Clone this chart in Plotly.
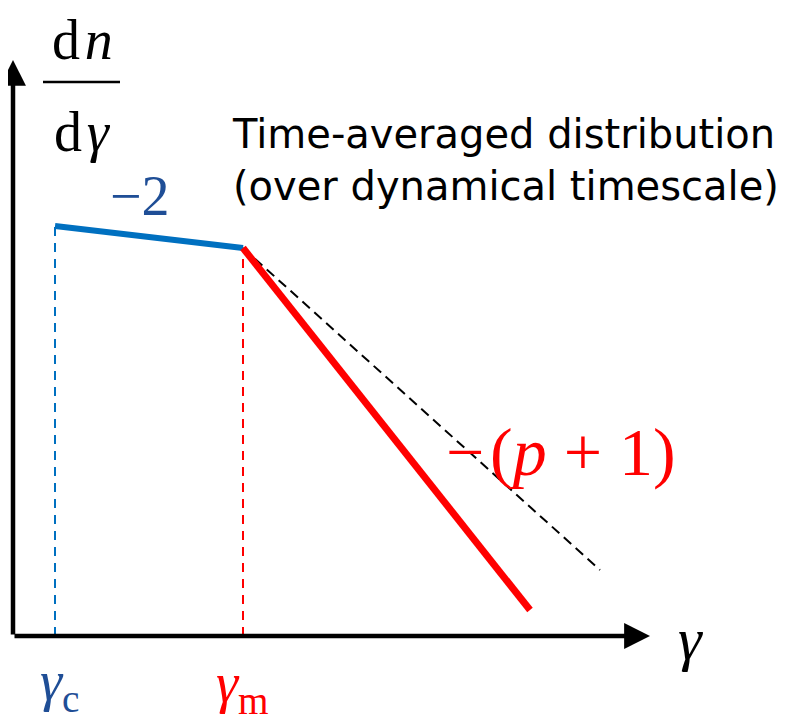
import plotly.graph_objects as go

# Schematic electron spectrum (arbitrary units; axis origin at 0,0)
gamma_c = 42
gamma_m = 230
cool_x = [42, 230]          # slope -2 segment
cool_y = [410, 388]
inj_x = [230, 517]          # slope -(p+1) segment
inj_y = [388, 26]
ext_x = [230, 587]          # extrapolated injection slope (dashed)
ext_y = [388, 66]
x_axis_end = 637
y_axis_end = 576

BLUE = "#0070C0"
DBLUE = "#1F4E96"
RED = "#FF0000"
SERIF = "Liberation Serif"

fig = go.Figure()

# vertical dashed guides
fig.add_trace(go.Scatter(x=[gamma_c, gamma_c], y=[0, cool_y[0]], mode="lines",
                         line=dict(color=BLUE, width=2, dash="9px,7px"), hoverinfo="skip"))
fig.add_trace(go.Scatter(x=[gamma_m, gamma_m], y=[0, cool_y[1]], mode="lines",
                         line=dict(color=RED, width=2, dash="9px,7px"), hoverinfo="skip"))
# extrapolation dashed
fig.add_trace(go.Scatter(x=ext_x, y=ext_y, mode="lines",
                         line=dict(color="black", width=2, dash="10px,6px"), hoverinfo="skip"))
# solid segments
fig.add_trace(go.Scatter(x=cool_x, y=cool_y, mode="lines",
                         line=dict(color=BLUE, width=6), hoverinfo="skip"))
fig.add_trace(go.Scatter(x=inj_x, y=inj_y, mode="lines",
                         line=dict(color=RED, width=7), hoverinfo="skip"))

# axes with arrows
for (x, y) in [(0, y_axis_end), (x_axis_end, 0)]:
    fig.add_annotation(x=x, y=y, ax=0, ay=0, xref="x", yref="y", axref="x", ayref="y",
                       showarrow=True, arrowhead=2, arrowsize=1.15, arrowwidth=4.5,
                       arrowcolor="black", text="")


def txt(x, y, s, size, color="black", family=SERIF, xanchor="center", align="center"):
    fig.add_annotation(x=x, y=y, xref="x", yref="y", text=s, showarrow=False,
                       font=dict(family=family, size=size, color=color),
                       xanchor=xanchor, yanchor="middle", align=align)


# dn/dgamma fraction
txt(69, 596, "d&#8202;<i>n</i>", 56)
txt(69, 504, "d&#8202;<i>γ</i>", 56)
fig.add_shape(type="line", x0=30, x1=107, y0=554, y1=554, xref="x", yref="y",
              line=dict(color="black", width=2.5))

txt(217, 476, "Time-averaged distribution<br>(over dynamical timescale)", 40,
    family="DejaVu Sans", xanchor="left", align="left")
txt(127, 440, "−2", 56, color=DBLUE)
txt(548, 184, "−&#8202;(<i>p</i>&nbsp;+&nbsp;1)", 68, color=RED)
txt(677, -3, "<i>γ</i>", 60)
txt(46, -49, "<i>γ</i><sub>c</sub>", 56, color=DBLUE)
txt(229, -51, "<i>γ</i><sub>m</sub>", 56, color=RED)

# page body adds an 8px margin, so the figure is drawn 8px smaller with 1 unit = 1 px
fig.update_layout(
    width=790, height=713, margin=dict(l=0, r=0, t=0, b=0),
    paper_bgcolor="white", plot_bgcolor="white", showlegend=False,
    xaxis=dict(range=[-5, 785], visible=False, fixedrange=True),
    yaxis=dict(range=[-85, 628], visible=False, fixedrange=True),
)
fig.write_html("out.html")
